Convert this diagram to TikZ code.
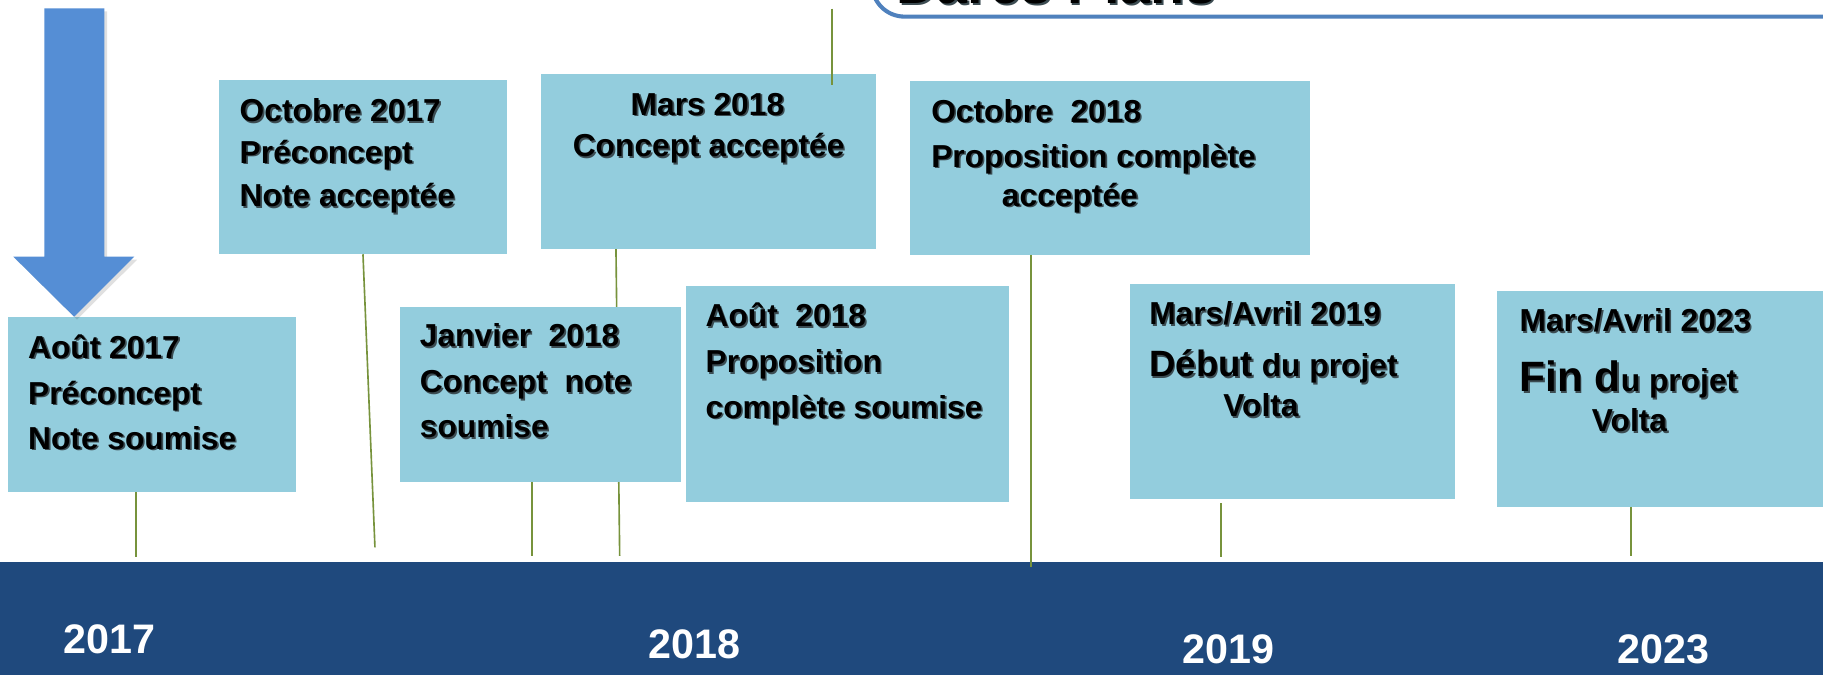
\documentclass[tikz,border=0pt]{standalone}
\usepackage{fontspec}
\setmainfont{Liberation Sans}
\usetikzlibrary{calc}
\definecolor{boxc}{HTML}{93CDDD}
\definecolor{bandc}{HTML}{1F497D}
\definecolor{linec}{HTML}{77933C}
\definecolor{arrowc}{HTML}{558ED5}
\definecolor{titlec}{HTML}{4F81BD}
\definecolor{shd}{HTML}{3C4C52}
\newcommand\sht[1]{\makebox[0pt][l]{\kern1.4pt\raisebox{-1.4pt}{\textcolor{shd}{#1}}}#1}
\begin{document}
\begin{tikzpicture}[x=1pt,y=-1pt,
  evbox/.style={fill=boxc, draw=none, inner sep=0pt},
  txt/.style={anchor=base west, inner sep=0pt, font=\bfseries\fontsize{27.3}{30}\selectfont},
  ctxt/.style={txt, anchor=base},
  yr/.style={anchor=base, inner sep=0pt, text=white, font=\bfseries\fontsize{35.5}{40}\selectfont},
  conn/.style={draw=linec, line width=1.4pt}]
\useasboundingbox (0,0) rectangle (1568,580);
\clip (0,0) rectangle (1568,580);
\fill[white] (0,0) rectangle (1568,580);

% band
\node[fill=bandc, inner sep=0pt, minimum width=1580pt, minimum height=100pt] (band) at (784,533.1) {};

% title box
\node[draw=titlec, fill=white, line width=3.5pt, rounded corners=28pt, minimum width=900pt, minimum height=104pt, inner sep=0pt] (title) at (1200,-37.7) {};
\node[anchor=base west, inner sep=0pt, font=\bfseries\fontsize{48}{50}\selectfont] (titletxt) at (771,3.4) {\sht{Dares Plans}};

% boxes
\node[evbox, minimum width=247.6pt, minimum height=150.6pt] (b1) at (130.8,347.7) {};
\node[evbox, minimum width=247.4pt, minimum height=149.7pt] (b2) at (312.2,143.65) {};
\node[evbox, minimum width=288.2pt, minimum height=150.4pt] (b3) at (609.4,138.8) {};

\coordinate (e3) at (533,478.2);
\draw[conn] ([xshift=64.7pt]b3.south west) -- (e3);

\node[evbox, minimum width=241.9pt, minimum height=150pt] (b4) at (464.65,339.3) {};
\node[evbox, minimum width=277.9pt, minimum height=185.5pt] (b5) at (728.95,338.75) {};
\node[evbox, minimum width=344.1pt, minimum height=149.6pt] (b6) at (954.75,144.2) {};
\node[evbox, minimum width=279.9pt, minimum height=185.2pt] (b7) at (1111.85,336.9) {};
\node[evbox, minimum width=295pt, minimum height=185.5pt] (b8) at (1435,343.05) {};

% connectors
\coordinate (e1) at (117.1,478.8);
\draw[conn] (e1 |- b1.south) -- (e1);
\coordinate (e2) at (322.5,470.8);
\draw[conn] (b2.south) -- (e2);
\coordinate (e4) at (457.7,478.2);
\draw[conn] (e4 |- b4.south) -- (e4);
\coordinate (e6) at (886.8,487.4);
\draw[conn] (e6 |- b6.south) -- (e6);
\coordinate (e7) at (1050,478.8);
\draw[conn] ($(e7 |- b7.south)+(0,3)$) -- (e7);
\coordinate (e8) at (1402.7,478.3);
\draw[conn] (e8 |- b8.south) -- (e8);
\coordinate (e0) at (715.4,7.5);
\draw[conn] (e0) -- ($(e0 |- b3.north)+(0,9.4)$);

% arrow
\fill[black, opacity=0.12] (40.6,9.7) -- (92.2,9.7) -- (92.2,223.3) -- (118,223.3) -- (66.2,274.9) -- (14,223.3) -- (40.6,223.3) -- cycle;
\fill[arrowc] (38.1,7.2) -- (89.7,7.2) -- (89.7,220.8) -- (115.5,220.8) -- (63.7,272.4) -- (11.5,220.8) -- (38.1,220.8) -- cycle;

% texts
\node[txt] (t1a) at (24,308) {\sht{Août 2017}};
\node[txt] (t1b) at (24,347.5) {\sht{Préconcept}};
\node[txt] (t1c) at (24,386.5) {\sht{Note soumise}};

\node[txt] (t2a) at (206,104.5) {\sht{Octobre 2017}};
\node[txt] (t2b) at (206,140.4) {\sht{Préconcept}};
\node[txt] (t2c) at (206,177.8) {\sht{Note acceptée}};

\node[ctxt] (t3a) at (608.5,99) {\sht{Mars 2018}};
\node[ctxt] (t3b) at (609.5,135) {\sht{Concept acceptée}};

\node[txt] (t4a) at (361,298.2) {\sht{Janvier~~2018}};
\node[txt] (t4b) at (361,337.8) {\sht{Concept~~note}};
\node[txt] (t4c) at (361,376.5) {\sht{soumise}};

\node[txt] (t5a) at (606.7,281) {\sht{Août~~2018}};
\node[txt] (t5b) at (606.7,320.5) {\sht{Proposition}};
\node[txt] (t5c) at (606.7,359.8) {\sht{complète soumise}};

\node[txt] (t6a) at (800.8,105) {\sht{Octobre~~2018}};
\node[txt] (t6b) at (800.8,143.9) {\sht{Proposition complète}};
\node[txt] (t6c) at (861.6,177.5) {\sht{acceptée}};

\node[txt] (t7a) at (988.3,279.5) {\sht{Mars/Avril 2019}};
\node[txt] (t7b) at (988.3,324) {\sht{{\fontsize{31.5}{34}\selectfont Début} du projet}};
\node[txt] (t7c) at (1052,358.4) {\sht{Volta}};

\node[txt] (t8a) at (1306.8,285.3) {\sht{Mars/Avril 2023}};
\node[txt] (t8b) at (1306.8,336.9) {\sht{{\fontsize{36.5}{38}\selectfont Fin d}u projet}};
\node[txt] (t8c) at (1369,371.3) {\sht{Volta}};

% years
\node[yr] (y17) at (94.4,562.5) {2017};
\node[yr] (y18) at (597.3,566.8) {2018};
\node[yr] (y19) at (1056.8,570.6) {2019};
\node[yr] (y23) at (1430.7,570.6) {2023};
\end{tikzpicture}
\end{document}
